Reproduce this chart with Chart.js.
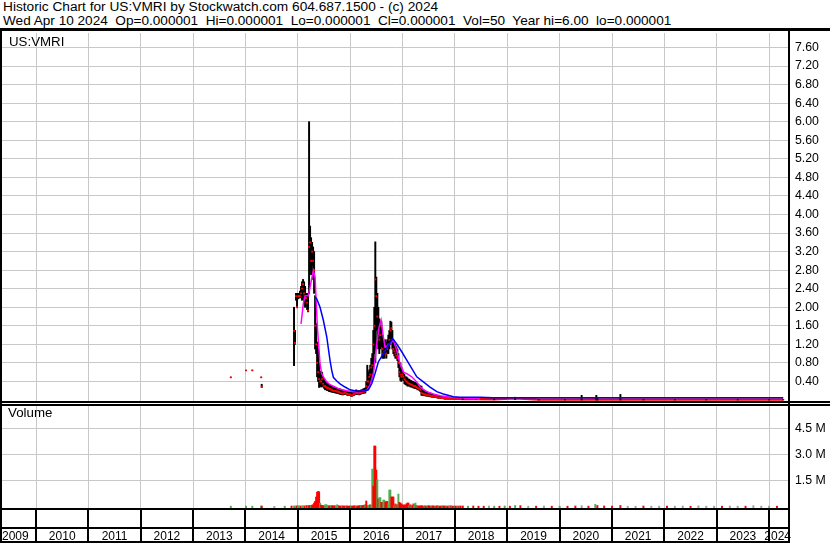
<!DOCTYPE html>
<html><head><meta charset="utf-8">
<script src="https://cdn.jsdelivr.net/npm/chart.js@4.4.1/dist/chart.umd.min.js"></script>
<style>
html,body{margin:0;padding:0;background:#fff;}
body{width:830px;height:543px;overflow:hidden;position:relative;font-family:"Liberation Sans",Arial,sans-serif;color:#000;}
.t{position:absolute;white-space:pre;line-height:14px;color:#000;}
.k{position:absolute;background:#000;}
canvas{position:absolute;left:0;}
#c1{top:31px;}
#c2{top:404px;}
</style></head><body>
<canvas id="c1" width="830" height="373"></canvas>
<canvas id="c2" width="830" height="139"></canvas>
<div class="t" style="left:3px;top:0px;font-size:13.7px">Historic Chart for US:VMRI by Stockwatch.com 604.687.1500 - (c) 2024</div>
<div class="t" style="left:3px;top:14px;font-size:13.6px">Wed Apr 10 2024  Op=0.000001  Hi=0.000001  Lo=0.000001  Cl=0.000001  Vol=50  Year hi=6.00  lo=0.000001</div>
<div class="t" style="left:9px;top:35px;font-size:13.3px">US:VMRI</div>
<div class="t" style="left:8px;top:406px;font-size:13.3px">Volume</div>
<div class="k" style="left:0;top:28px;width:830px;height:3px"></div>
<div class="k" style="left:0;top:28px;width:2px;height:515px"></div>
<div class="k" style="left:788px;top:28px;width:2px;height:515px"></div>
<div class="k" style="left:0;top:401px;width:830px;height:2px"></div>
<div class="k" style="left:0;top:404px;width:830px;height:2px"></div>
<div class="k" style="left:0;top:508px;width:790px;height:2px"></div>
<div class="k" style="left:0;top:527px;width:790px;height:2px"></div>
<div class="k" style="left:0;top:541px;width:790px;height:2px"></div>
<script>
// ---------- axes / labels ----------
const XMIN = 2009.35, XMAX = 2024.38;
const YEAR_TICKS = [2010,2011,2012,2013,2014,2015,2016,2017,2018,2019,2020,2021,2022,2023,2024];
const YEAR_LABELS = ['2009','2010','2011','2012','2013','2014','2015','2016','2017','2018','2019','2020','2021','2022','2023','2024'];
const FIRST_YEAR = 2009;
const PRICE_TICKS = [0.4,0.8,1.2,1.6,2.0,2.4,2.8,3.2,3.6,4.0,4.4,4.8,5.2,5.6,6.0,6.4,6.8,7.2,7.6];
const VOL_TICKS = [1.5,3.0,4.5];

// ---------- weekly price columns (from first dense week) ----------
const WEEK0 = 2014.927;
const WEEK = 7/365.25;
const weekLo = [0.74,1.20,2.15,2.00,2.18,2.20,2.20,2.25,2.15,2.30,
 2.10,2.00,2.10,1.95,1.90,2.30,2.80,2.70,2.90,2.60,
 2.30,1.10,1.00,0.50,0.40,0.27,0.30,0.28,0.30,0.28,
 0.25,0.22,0.22,0.20,0.20,0.18,0.18,0.17,0.17,0.16,
 0.16,0.15,0.15,0.14,0.14,0.13,0.12,0.12,0.11,0.11,
 0.12,0.12,0.12,0.10,0.10,0.10,0.10,0.08,0.08,0.10,
 0.10,0.12,0.12,0.12,0.12,0.11,0.12,0.13,0.14,0.14,
 0.15,0.15,0.20,0.22,0.30,0.30,0.35,0.45,0.50,0.65,
 1.00,0.80,1.50,1.20,1.10,1.00,1.10,1.15,0.90,0.90,
 0.90,1.00,0.90,1.00,1.00,1.10,1.20,1.30,1.10,1.00,
 0.95,0.90,0.90,0.85,0.70,0.50,0.42,0.40,0.45,0.42,
 0.35,0.33,0.32,0.30,0.30,0.30,0.28,0.28,0.27,0.26,
 0.25,0.25,0.24,0.22,0.22,0.20,0.18,0.10,0.10,0.10,
 0.09,0.09,0.08,0.08,0.08,0.07,0.07,0.06,0.06,0.06,
 0.05,0.05,0.05,0.04,0.04,0.04,0.03,0.03,0.03,0.03,
 0.02,0.02,0.02,0.02,0.02,0.02,0.02,0.02,0.02,0.02,0.02,0.02,0.02,0.02,0.02,0.02,0.02];
const weekHi = [2.00,1.50,2.30,2.30,2.30,2.30,2.35,2.45,2.55,2.60,
 2.55,2.45,2.30,2.25,2.30,6.00,3.75,3.50,3.40,3.30,
 3.20,2.25,1.65,1.25,1.10,0.80,0.62,0.55,0.60,0.50,
 0.45,0.40,0.38,0.36,0.35,0.33,0.32,0.30,0.30,0.28,
 0.28,0.27,0.26,0.25,0.25,0.24,0.24,0.22,0.20,0.20,
 0.20,0.20,0.19,0.19,0.18,0.17,0.17,0.17,0.16,0.17,
 0.18,0.20,0.22,0.20,0.20,0.20,0.20,0.22,0.22,0.24,
 0.25,0.26,0.40,0.75,0.60,0.65,0.75,0.90,1.00,1.50,
 2.00,3.41,2.65,2.30,2.00,1.75,1.60,1.70,1.40,1.30,
 1.20,1.30,1.25,1.30,1.40,1.50,1.70,1.68,1.50,1.30,
 1.25,1.20,1.15,1.10,1.00,0.80,0.80,0.70,0.65,0.60,
 0.55,0.50,0.50,0.48,0.45,0.45,0.42,0.42,0.40,0.40,
 0.38,0.38,0.36,0.35,0.33,0.32,0.30,0.30,0.22,0.20,
 0.20,0.18,0.18,0.17,0.16,0.15,0.15,0.14,0.13,0.12,
 0.12,0.11,0.10,0.10,0.09,0.09,0.08,0.08,0.07,0.07,
 0.06,0.06,0.07,0.06,0.05,0.06,0.05,0.05,0.06,0.05,0.05,0.05,0.04,0.05,0.04,0.04,0.04];
const weekClose = [1.49,1.23,2.24,2.00,2.24,2.24,2.24,2.30,2.40,2.50,
 2.30,2.20,2.20,2.10,1.93,3.30,3.40,3.00,3.20,3.00,
 2.80,1.60,1.20,0.80,0.60,0.45,0.40,0.40,0.45,0.35,
 0.30,0.30,0.28,0.26,0.25,0.25,0.24,0.22,0.22,0.20,
 0.20,0.20,0.19,0.18,0.18,0.17,0.16,0.15,0.14,0.14,
 0.15,0.15,0.14,0.13,0.12,0.12,0.12,0.10,0.10,0.12,
 0.13,0.14,0.15,0.15,0.14,0.14,0.15,0.16,0.17,0.18,
 0.18,0.20,0.30,0.40,0.40,0.50,0.55,0.70,0.75,1.20,
 1.60,2.60,2.24,1.80,1.50,1.30,1.40,1.60,1.10,1.00,
 1.05,1.15,1.00,1.10,1.20,1.30,1.50,1.55,1.30,1.10,
 1.05,1.00,0.95,0.90,0.80,0.60,0.55,0.50,0.55,0.50,
 0.45,0.42,0.40,0.38,0.36,0.35,0.34,0.33,0.32,0.30,
 0.30,0.30,0.28,0.26,0.25,0.24,0.22,0.15,0.14,0.13,
 0.12,0.12,0.11,0.10,0.10,0.10,0.09,0.09,0.08,0.08,
 0.07,0.07,0.06,0.06,0.05,0.05,0.05,0.04,0.04,0.04,
 0.03,0.03,0.04,0.03,0.03,0.03,0.03,0.03,0.02,0.03,0.02,0.02,0.02,0.02,0.02,0.02,0.02];

// ---------- sparse early trades ----------
const preYears = [2013.72, 2014.01, 2014.13, 2014.30, 2014.31];
const preLo    = [0.49, 0.64, 0.64, 0.49, 0.27];
const preHi    = [0.49, 0.64, 0.64, 0.49, 0.34];
const preClose = [0.49, 0.64, 0.64, 0.49, 0.29];

// ---------- near-zero tail ----------
const tailYears = [2018.15,2018.40,2018.75,2019.15,2019.60,2020.10,2020.42,2020.70,2020.72,2021.16,2021.60,2022.20,2022.80,2023.40,2024.00,2024.27];
const tailLo    = [0.01,0.01,0.005,0.01,0,0,0,0,0,0,0,0,0,0,0,0];
const tailHi    = [0.04,0.03,0.02,0.06,0.01,0.01,0.10,0.10,0.06,0.12,0.01,0.01,0.01,0.01,0.01,0.01];
const tailClose = [0.025,0.02,0.015,0.04,0.01,0.01,0.01,0.015,0.01,0.01,0.01,0.01,0.01,0.01,0.01,0.01];

// ---------- moving averages ----------
const maFastYears = [2015.061,2015.105,2015.138,2015.201,2015.246,2015.296,2015.329,2015.373,2015.405,2015.424,2015.456,2015.487,2015.552,2015.615,2015.710,2015.806,2015.934,2016.060,2016.188,2016.316,2016.379,2016.442,2016.507,2016.551,2016.589,2016.633,2016.665,2016.728,2016.793,2016.824,2016.889,2016.952,2017.015,2017.080,2017.175,2017.271,2017.334,2017.462,2017.588,2017.716,2017.907,2018.098,2018.48];
const maFastVals  = [1.64,2.08,2.25,2.25,2.51,2.79,2.65,1.57,1.07,0.78,0.57,0.50,0.39,0.33,0.28,0.23,0.20,0.18,0.18,0.21,0.32,0.57,1.21,1.57,1.72,1.36,1.14,1.18,1.25,1.29,1.07,0.78,0.60,0.57,0.50,0.39,0.28,0.18,0.13,0.09,0.06,0.05,0.02];
const maSlowYears = [2015.329,2015.361,2015.424,2015.487,2015.552,2015.615,2015.647,2015.678,2015.743,2015.806,2015.901,2015.997,2016.125,2016.251,2016.347,2016.411,2016.474,2016.537,2016.633,2016.728,2016.812,2016.889,2016.984,2017.080,2017.175,2017.271,2017.397,2017.525,2017.653,2017.779,2017.970,2018.098,2018.48,2018.728,2018.785,2024.27];
const maSlowVals  = [2.22,2.18,2.00,1.72,1.36,0.85,0.64,0.49,0.41,0.35,0.28,0.22,0.19,0.19,0.22,0.35,0.57,0.82,1.00,1.18,1.32,1.21,1.04,0.86,0.68,0.50,0.39,0.28,0.18,0.13,0.07,0.06,0.06,0.05,0.05,0.05];

// ---------- volume (millions) ; u = up (green), d = down (red), n = unchanged (grey) ----------
const weekVol = [0.03,0.02,0.03,0.03,0.04,0.03,0.03,0.02,0.03,0.04,0.03,0.03,0.04,0.05,0.04,0.05,0.06,0.05,0.08,
 0.10,0.20,0.30,0.55,0.83,0.87,0.85,
 0.20,0.08,0.06,0.05,0.03,0.10,0.10,0.08,0.05,0.03,0.04,0.03,0.05,0.04,
 0.03,0.04,0.03,0.10,0.06,0.03,0.02,0.03,0.04,0.03,0.02,0.03,0.04,0.03,0.02,0.02,0.03,0.03,0.02,0.03,0.04,0.03,0.02,0.03,0.03,0.04,0.05,0.04,0.06,0.05,0.08,0.10,
 0.32,0.05,0.06,0.09,0.09,0.09,2.16,1.18,3.49,3.49,2.10,1.55,0.43,0.51,0.51,0.24,
 0.24,0.37,0.37,0.26,0.29,0.29,0.15,0.95,0.95,0.55,0.55,0.55,0.07,0.15,0.10,0.10,0.72,0.24,0.20,0.15,0.09,0.08,0.10,0.06,0.15,0.20,0.20,0.07,0.10,0.05,0.05,0.15,0.13,0.20,0.05,0.05,0.03,0.03,0.03,0.05,
 0.03,0.02,0.04,0.03,0.02,0.03,0.05,0.03,0.02,0.03,0.04,0.02,0.03,0.02,0.03,0.04,0.03,0.02,0.02,0.03,0.04,0.03,0.02,0.03,0.02,0.02,0.03,0.02,0.04,0.03,0.02,0.02,0.03,0.02,0.02,0.03,0.02,0.02,0.03];
const weekVolDir = 'uuuduuuduuudududdud' + 'ddddddd' + 'udddduuuuddudd' +
 'dduuu' + 'dddud' + 'ddudd' + 'ddudd' + 'ddudd' + 'ddudd' + 'du' +
 'dduud' + 'uuddd' + 'duduu' + 'd' +
 'duudd' + 'duuud' + 'ddudu' + 'duddd' + 'ddddd' + 'ddudu' + 'dduud' + 'udddd' +
 'dduddudddu' + 'dddudduddd' + 'uddduddndu' + 'dduddndud';
const preVolYears = [2013.72,2014.01,2014.13,2014.30,2014.31,2014.55,2014.75,2014.88];
const preVol      = [0.02,0.02,0.02,0.02,0.03,0.01,0.02,0.03];
const preVolDir   = 'uuuudnud';
const tailVolYears = [2018.15,2018.25,2018.35,2018.45,2018.55,2018.65,2018.75,2018.85,2018.95,2019.05,2019.15,2019.25,2019.40,2019.55,2019.70,2019.85,2020.00,2020.15,2020.30,2020.42,2020.55,2020.68,2020.72,2020.85,2021.00,2021.16,2021.30,2021.45,2021.60,2021.75,2021.90,2022.05,2022.20,2022.35,2022.50,2022.65,2022.80,2022.95,2023.10,2023.25,2023.40,2023.55,2023.70,2023.85,2024.00,2024.15];
const tailVol = [0.03,0.02,0.03,0.02,0.02,0.03,0.02,0.02,0.03,0.02,0.06,0.05,0.02,0.02,0.03,0.02,0.02,0.02,0.03,0.05,0.02,0.12,0.06,0.03,0.02,0.06,0.02,0.02,0.03,0.02,0.02,0.02,0.02,0.03,0.02,0.04,0.02,0.02,0.02,0.03,0.02,0.02,0.05,0.02,0.02,0.02];
const tailVolDir = 'dudddnudud' + 'udndnduddn' + 'duddddnndn' + 'ndnndnnndn' + 'ndnnnd';

// ---------- build datasets ----------
const FONT = '"Liberation Sans", Arial, sans-serif';
const weekYears = weekLo.map((_, i) => WEEK0 + i * WEEK);
const barData = [];
preYears.forEach((x, i) => barData.push({x, y: [preLo[i], preHi[i]]}));
weekYears.forEach((x, i) => barData.push({x, y: [weekLo[i], weekHi[i]]}));
tailYears.forEach((x, i) => barData.push({x, y: [tailLo[i], tailHi[i]]}));
const closeData = [];
preYears.forEach((x, i) => closeData.push({x, y: preClose[i]}));
weekYears.forEach((x, i) => closeData.push({x, y: weekClose[i]}));
const tailLine = [{x: weekYears[weekYears.length-1], y: weekClose[weekClose.length-1]}].concat(tailYears.map((x, i) => ({x, y: tailClose[i]})));
const fastData = maFastYears.map((x, i) => ({x, y: maFastVals[i]}));
const slowData = maSlowYears.map((x, i) => ({x, y: maSlowVals[i]}));

const DIRCOL = {u: '#4caf50', d: '#ff0000', n: '#a0a0a0'};
const volData = [], volCol = [];
function addVol(years, vals, dirs) { years.forEach((x, i) => { volData.push({x, y: vals[i]}); volCol.push(DIRCOL[dirs[i]]); }); }
addVol(preVolYears, preVol, preVolDir);
addVol(weekYears, weekVol, weekVolDir);
addVol(tailVolYears, tailVol, tailVolDir);

function zeroPad(s) { s.paddingTop = 0; s.paddingBottom = 0; s.paddingLeft = 0; s.paddingRight = 0; }
const xAxis = {
  type: 'linear', min: XMIN, max: XMAX, offset: false,
  afterBuildTicks(s) { s.ticks = YEAR_TICKS.map(v => ({value: v})); },
  afterFit(s) { s.height = 0; zeroPad(s); },
  grid: {color: '#c8c8c8', lineWidth: 1, drawTicks: false, offset: false},
  border: {display: false},
  ticks: {display: false}
};

new Chart(document.getElementById('c1'), {
  type: 'bar',
  data: {datasets: [
    {type: 'line', data: slowData, borderColor: '#0000ff', borderWidth: 1.5, pointRadius: 0, order: 0},
    {type: 'line', data: fastData, borderColor: '#ff00ff', borderWidth: 1.5, pointRadius: 0, order: 1},
    {type: 'line', data: closeData, showLine: false, pointStyle: 'rect', pointRadius: 1.3, pointBackgroundColor: '#ff0000', pointBorderWidth: 0, order: 2},
    {type: 'bar', data: barData, backgroundColor: '#000', barThickness: 1.3, grouped: false, order: 3},
    {type: 'line', data: tailLine, borderColor: '#ff0000', borderWidth: 2.5, pointRadius: 0, order: 4}
  ]},
  options: {
    responsive: false, animation: false, devicePixelRatio: 1,
    plugins: {legend: {display: false}, tooltip: {enabled: false}},
    layout: {autoPadding: false, padding: {left: 2, top: 2, right: 0, bottom: 2}},
    scales: {
      x: xAxis,
      y: {
        position: 'right', min: -0.043, max: 7.913,
        afterBuildTicks(s) { s.ticks = PRICE_TICKS.map(v => ({value: v})); },
        afterFit(s) { s.width = 41; zeroPad(s); },
        grid: {color: '#c8c8c8', lineWidth: 1, drawTicks: false},
        border: {display: false},
        ticks: {padding: 6, color: '#000', font: {family: FONT, size: 12.3}, callback: v => Number(v).toFixed(2)}
      }
    }
  }
});

const stripPlugin = {
  id: 'strip',
  afterDraw(chart) {
    const ctx = chart.ctx, xs = chart.scales.x, area = chart.chartArea;
    ctx.save();
    ctx.fillStyle = '#000';
    YEAR_TICKS.forEach(v => { const p = Math.round(xs.getPixelForValue(v)); ctx.fillRect(p - 1, area.bottom + 1, 2, 32); });
    ctx.font = '12px ' + FONT;
    ctx.textBaseline = 'alphabetic';
    YEAR_LABELS.forEach((lab, i) => {
      const y0 = FIRST_YEAR + i;
      const a = xs.getPixelForValue(y0), b = xs.getPixelForValue(y0 + 1);
      const w = ctx.measureText(lab).width;
      let tx = (a + b) / 2 - w / 2;
      tx = Math.max(area.left, Math.min(tx, area.right + 2 - w));
      ctx.fillText(lab, tx, area.bottom + 30.5);
    });
    ctx.restore();
  }
};

new Chart(document.getElementById('c2'), {
  type: 'bar',
  data: {datasets: [
    {data: volData, backgroundColor: volCol, barThickness: 1.3, grouped: false, base: -0.144}
  ]},
  options: {
    responsive: false, animation: false, devicePixelRatio: 1,
    plugins: {legend: {display: false}, tooltip: {enabled: false}},
    layout: {autoPadding: false, padding: {left: 2, top: 1, right: 0, bottom: 34}},
    scales: {
      x: xAxis,
      y: {
        position: 'right', min: -0.144, max: 5.857,
        afterBuildTicks(s) { s.ticks = VOL_TICKS.map(v => ({value: v})); },
        afterFit(s) { s.width = 41; zeroPad(s); },
        grid: {color: '#c8c8c8', lineWidth: 1, drawTicks: false},
        border: {display: false},
        ticks: {padding: 6, color: '#000', font: {family: FONT, size: 12.3}, callback: v => Number(v).toFixed(1) + ' M'}
      }
    }
  },
  plugins: [stripPlugin]
});
</script>
</body></html>
